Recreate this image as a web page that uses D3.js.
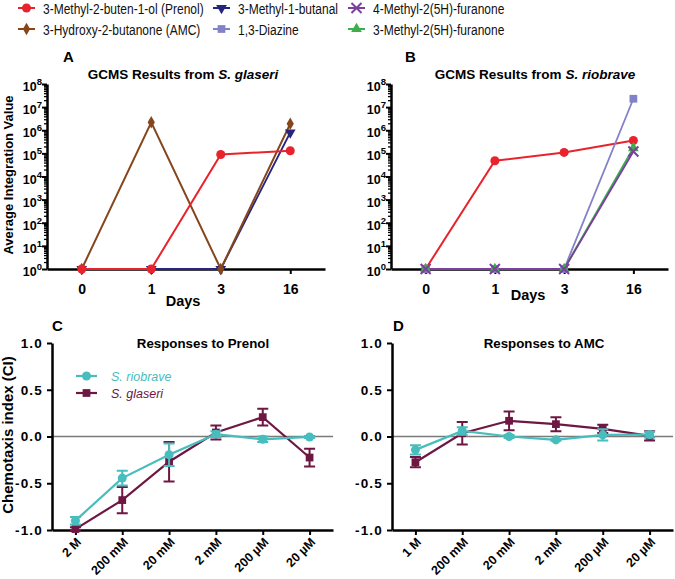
<!DOCTYPE html>
<html>
<head>
<meta charset="utf-8">
<script src="https://cdn.jsdelivr.net/npm/d3@7"></script>
<style>
  html, body { margin: 0; padding: 0; background: #fff; }
  svg { display: block; font-family: "Liberation Sans", Arial, sans-serif; }
</style>
</head>
<body>
<svg id="chart" width="675" height="579"></svg>
<script>
// ---------- DATA ----------
const days = ["0", "1", "3", "16"];
// Panel A: S. glaseri GCMS (average integration value)
const aPrenol  = [1, 1, 9.0e4, 1.3e5];
const aAMC     = [1, 2.2e6, 1, 1.9e6];
const aButanal = [1, 1, 1, 8.0e5];
// Panel B: S. riobrave GCMS
const bPrenol     = [1, 4.8e4, 1.1e5, 3.6e5];
const bDiazine    = [1, 1, 1, 2.3e7];
const bFuranone4  = [1, 1, 1, 1.2e5];
const bFuranone3  = [1, 1, 1, 1.7e5];
const logTicks = [1, 10, 1e2, 1e3, 1e4, 1e5, 1e6, 1e7, 1e8];

// Panel C: responses to prenol
const prenolConc = ["2 M", "200 mM", "20 mM", "2 mM", "200 µM", "20 µM"];
const cRiobrave    = [-0.90, -0.445, -0.195, 0.025, -0.03, -0.005];
const cRiobraveErr = [0.04, 0.08, 0.12, 0.03, 0.03, 0.01];
const cGlaseri     = [-0.99, -0.68, -0.27, 0.043, 0.207, -0.225];
const cGlaseriErr  = [0.02, 0.14, 0.21, 0.075, 0.09, 0.095];
// Panel D: responses to AMC
const amcConc = ["1 M", "200 mM", "20 mM", "2 mM", "200  µM", "20 µM"];
const dRiobrave    = [-0.143, 0.06, 0.0, -0.036, 0.018, 0.02];
const dRiobraveErr = [0.05, 0.04, 0.015, 0.01, 0.06, 0.03];
const dGlaseri     = [-0.275, 0.035, 0.168, 0.132, 0.082, 0.007];
const dGlaseriErr  = [0.055, 0.12, 0.10, 0.075, 0.045, 0.05];
const ciTicks = [-1, -0.5, 0, 0.5, 1];

// ---------- STYLE ----------
const C = {
  prenol: "#E8232B", amc: "#86461B", butanal: "#26267E",
  diazine: "#8282C8", fur4: "#7B3F9E", fur3: "#3DAE4C",
  teal: "#48BDBD", maroon: "#6E1742"
};
const FONT = "Liberation Sans, Arial, sans-serif";
const svg = d3.select("#chart");

function marker(g, type, x, y, color) {
  if (type === "x") {
    const s = 5;
    g.append("path").attr("d", `M${x-s},${y-s}L${x+s},${y+s}M${x-s},${y+s}L${x+s},${y-s}`)
      .attr("stroke", color).attr("stroke-width", 2).attr("fill", "none");
    return;
  }
  const map = {
    circle: [d3.symbolCircle, 64, 0], diamond: [d3.symbolDiamond, 45, 0],
    tridown: [d3.symbolTriangle, 50, 180], triup: [d3.symbolTriangle, 50, 0],
    square: [d3.symbolSquare, 60, 0]
  };
  const [t, size, rot] = map[type];
  g.append("path").attr("d", d3.symbol().type(t).size(size)())
    .attr("transform", `translate(${x},${y}) rotate(${rot})`)
    .attr("fill", color);
}

// ---------- TOP LEGEND ----------
const legendItems = [
  {label: "3-Methyl-2-buten-1-ol (Prenol)", color: C.prenol, m: "circle", col: 0, row: 0},
  {label: "3-Hydroxy-2-butanone (AMC)", color: C.amc, m: "diamond", col: 0, row: 1},
  {label: "3-Methyl-1-butanal", color: C.butanal, m: "tridown", col: 1, row: 0},
  {label: "1,3-Diazine", color: C.diazine, m: "square", col: 1, row: 1},
  {label: "4-Methyl-2(5H)-furanone", color: C.fur4, m: "x", col: 2, row: 0},
  {label: "3-Methyl-2(5H)-furanone", color: C.fur3, m: "triup", col: 2, row: 1}
];
const colX = [18, 213, 348], rowY = [8, 29];
const lg = svg.append("g");
legendItems.forEach(it => {
  const x = colX[it.col], y = rowY[it.row];
  lg.append("line").attr("x1", x).attr("x2", x + 17).attr("y1", y).attr("y2", y)
    .attr("stroke", it.color).attr("stroke-width", 2);
  marker(lg, it.m, x + 8.5, y, it.color);
  lg.append("text").attr("transform", `translate(${x + 25},${y + 5.5}) scale(0.8,1)`)
    .attr("font-size", 15).attr("fill", "#111").text(it.label);
});

// ---------- GCMS PANELS ----------
function gcmsPanel(cfg) {
  const g = svg.append("g");
  const x = d3.scalePoint().domain(days).range([cfg.x0, cfg.x1]).padding(0.5);
  const y = d3.scaleLog().domain([1, 1e8]).range([269, 84]);

  // minor ticks
  const minors = [];
  for (let k = 0; k < 8; k++) for (let m = 2; m <= 9; m++) minors.push(m * Math.pow(10, k));
  const ym = g.append("g").attr("transform", `translate(${cfg.x0},0)`)
    .call(d3.axisLeft(y).tickValues(minors).tickSize(3).tickSizeOuter(0).tickFormat(""));
  ym.select(".domain").remove();
  ym.selectAll("line").attr("stroke-width", 1.3);

  const ya = g.append("g").attr("transform", `translate(${cfg.x0},0)`)
    .call(d3.axisLeft(y).tickValues(logTicks).tickSize(5).tickSizeOuter(0).tickFormat(""));
  ya.select(".domain").attr("stroke-width", 2.5);
  ya.selectAll("line").attr("stroke-width", 2);
  ya.selectAll(".tick").append("text")
    .attr("x", -5).attr("y", 6.5).attr("text-anchor", "end").attr("fill", "#000")
    .attr("font-size", 12.5).attr("font-weight", "bold").attr("font-family", FONT)
    .each(function(d) {
      const t = d3.select(this);
      t.append("tspan").text("10");
      t.append("tspan").attr("dy", -6).attr("font-size", 9.5).text(String(Math.round(Math.log10(d))));
    });

  const xa = g.append("g").attr("transform", "translate(0,269)")
    .call(d3.axisBottom(x).tickSize(5).tickSizeOuter(0).tickPadding(10));
  xa.select(".domain").attr("stroke-width", 2.5);
  xa.selectAll("line").attr("stroke-width", 2);
  xa.selectAll("text").attr("font-size", 14).attr("font-weight", "bold")
    .attr("font-family", FONT).attr("fill", "#000");

  // series
  const line = d3.line().x((d, i) => x(days[i])).y(d => y(d));
  cfg.series.forEach(s => {
    g.append("path").datum(s.values).attr("d", line)
      .attr("fill", "none").attr("stroke", s.color).attr("stroke-width", s.w || 1.8);
  });
  cfg.series.forEach(s => {
    s.values.forEach((v, i) => marker(g, s.m, x(days[i]), y(v), s.color));
  });

  g.append("text").attr("x", cfg.titleX).attr("y", 78.5).attr("text-anchor", "middle")
    .attr("font-size", 13.5).attr("font-weight", "bold")
    .html(`GCMS Results from <tspan font-style="italic">${cfg.species}</tspan>`);
  g.append("text").attr("x", cfg.letterX).attr("y", 62).attr("font-size", 15)
    .attr("font-weight", "bold").text(cfg.letter);
  g.append("text").attr("x", cfg.daysX).attr("y", cfg.daysY).attr("text-anchor", "middle")
    .attr("font-size", 14.5).attr("font-weight", "bold").text("Days");
}

gcmsPanel({
  x0: 47, x1: 325, titleX: 183, letterX: 63, letter: "A", species: "S. glaseri",
  daysX: 183, daysY: 306,
  series: [
    {values: aButanal, color: C.butanal, m: "tridown"},
    {values: aAMC, color: C.amc, m: "diamond", w: 2},
    {values: aPrenol, color: C.prenol, m: "circle", w: 2}
  ]
});
gcmsPanel({
  x0: 391, x1: 668, titleX: 535, letterX: 405, letter: "B", species: "S. riobrave",
  daysX: 528, daysY: 300,
  series: [
    {values: bPrenol, color: C.prenol, m: "circle", w: 2},
    {values: bDiazine, color: C.diazine, m: "square"},
    {values: bFuranone3, color: C.fur3, m: "triup", w: 2},
    {values: bFuranone4, color: C.fur4, m: "x"}
  ]
});

svg.append("text").attr("transform", "translate(13,175) rotate(-90)")
  .attr("text-anchor", "middle").attr("font-size", 13).attr("font-weight", "bold")
  .text("Average Integration Value");

// ---------- CHEMOTAXIS PANELS ----------
function ciPanel(cfg) {
  const g = svg.append("g");
  const x = d3.scalePoint().domain(cfg.conc).range([cfg.x0, cfg.x1]).padding(0.5);
  const y = d3.scaleLinear().domain([-1, 1]).range([530, 343]);

  g.append("line").attr("x1", cfg.x0).attr("x2", cfg.x1).attr("y1", y(0)).attr("y2", y(0))
    .attr("stroke", "#7a7a7a").attr("stroke-width", 1.5);

  const ya = g.append("g").attr("transform", `translate(${cfg.x0},0)`)
    .call(d3.axisLeft(y).tickValues(ciTicks).tickSize(5).tickSizeOuter(0).tickPadding(4)
      .tickFormat(d => d.toFixed(1)));
  ya.select(".domain").attr("stroke-width", 2.5);
  ya.selectAll("line").attr("stroke-width", 2);
  ya.selectAll("text").attr("font-size", 13.5).attr("font-weight", "bold")
    .attr("letter-spacing", 1.2).attr("fill", "#000")
    .attr("font-family", FONT);

  const xa = g.append("g").attr("transform", "translate(0,530)")
    .call(d3.axisBottom(x).tickSize(5).tickSizeOuter(0));
  xa.select(".domain").attr("stroke-width", 2.5);
  xa.selectAll("line").attr("stroke-width", 2);
  xa.selectAll("text").attr("font-size", 12.5).attr("font-weight", "bold").attr("fill", "#000")
    .attr("font-family", FONT)
    .attr("text-anchor", "end").attr("y", 0).attr("dy", 0)
    .attr("transform", "translate(6,13) rotate(-45)");

  const line = d3.line().x((d, i) => x(cfg.conc[i])).y(d => y(d));
  cfg.series.forEach(s => {
    g.append("path").datum(s.values).attr("d", line)
      .attr("fill", "none").attr("stroke", s.color).attr("stroke-width", 2.2);
    s.values.forEach((v, i) => {
      const cx = x(cfg.conc[i]), e = s.err[i];
      g.append("path")
        .attr("d", `M${cx},${y(v - e)}V${y(v + e)}M${cx - 5.5},${y(v - e)}H${cx + 5.5}M${cx - 5.5},${y(v + e)}H${cx + 5.5}`)
        .attr("stroke", s.color).attr("stroke-width", 2).attr("fill", "none");
      marker(g, s.m, cx, y(v), s.color);
    });
  });

  g.append("text").attr("x", cfg.titleX).attr("y", 348).attr("text-anchor", "middle")
    .attr("font-size", 13.3).attr("font-weight", "bold").text(cfg.title);
  g.append("text").attr("x", cfg.letterX).attr("y", 331).attr("font-size", 15)
    .attr("font-weight", "bold").text(cfg.letter);
  return g;
}

const gC = ciPanel({
  x0: 52, x1: 333, conc: prenolConc, title: "Responses to Prenol", titleX: 203,
  letter: "C", letterX: 52,
  series: [
    {values: cGlaseri, err: cGlaseriErr, color: C.maroon, m: "square"},
    {values: cRiobrave, err: cRiobraveErr, color: C.teal, m: "circle"}
  ]
});
ciPanel({
  x0: 392, x1: 673, conc: amcConc, title: "Responses to AMC", titleX: 544,
  letter: "D", letterX: 393,
  series: [
    {values: dGlaseri, err: dGlaseriErr, color: C.maroon, m: "square"},
    {values: dRiobrave, err: dRiobraveErr, color: C.teal, m: "circle"}
  ]
});

// legend in panel C
const ciLegend = [
  {label: "S. riobrave", color: C.teal, m: "circle", y: 376},
  {label: "S. glaseri", color: C.maroon, m: "square", y: 393}
];
ciLegend.forEach(it => {
  gC.append("line").attr("x1", 76).attr("x2", 97).attr("y1", it.y).attr("y2", it.y)
    .attr("stroke", it.color).attr("stroke-width", 2.2);
  marker(gC, it.m, 86.5, it.y, it.color);
  gC.append("text").attr("x", 111).attr("y", it.y + 4.5).attr("font-size", 12.5)
    .attr("font-style", "italic").attr("fill", it.color).text(it.label);
});

svg.append("text").attr("transform", "translate(13,435) rotate(-90)")
  .attr("text-anchor", "middle").attr("font-size", 15).attr("font-weight", "bold")
  .text("Chemotaxis index (CI)");
</script>
</body>
</html>
